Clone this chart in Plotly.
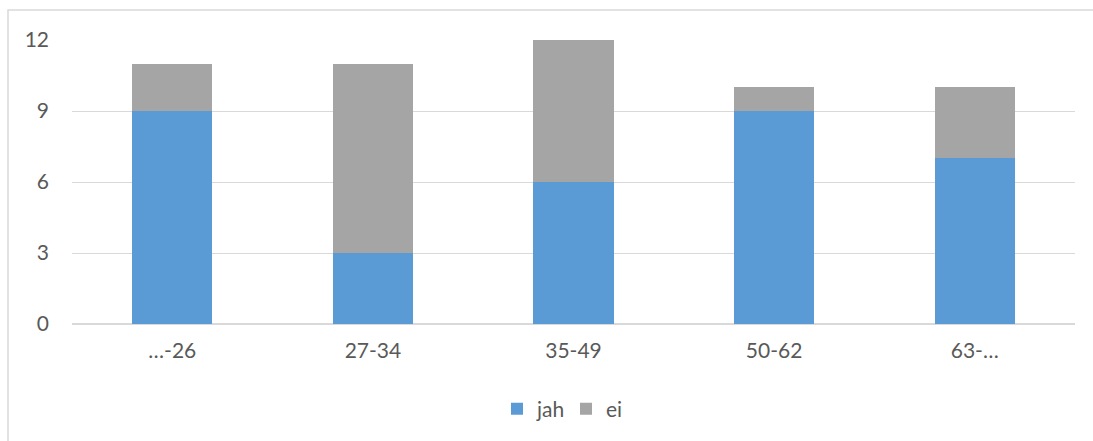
import plotly.graph_objects as go

categories = ["…-26", "27-34", "35-49", "50-62", "63-…"]
jah = [9, 3, 6, 9, 7]
ei = [2, 8, 6, 1, 3]
y_ticks = [0, 3, 6, 9, 12]

W, H = 1093, 441
L, R, T, B = 72, 18, 40, 117
pw, ph = W - L - R, H - T - B

text_color = "#595959"
font = dict(family="Lato, Open Sans, sans-serif", size=21, color=text_color)

fig = go.Figure()
fig.add_trace(go.Bar(name="jah", x=categories, y=jah, marker=dict(color="#5B9BD5", line=dict(width=0))))
fig.add_trace(go.Bar(name="ei", x=categories, y=ei, marker=dict(color="#A5A5A5", line=dict(width=0))))

# outer chart border (left and top visible; right/bottom fall outside the page)
fig.add_shape(
    type="rect", xref="paper", yref="paper",
    x0=(8 - L) / pw, x1=(W + 20 - L) / pw,
    y0=-(H + 20 - T - ph) / ph, y1=1 + (T - 10) / ph,
    line=dict(color="#D9D9D9", width=1.5), fillcolor="rgba(0,0,0,0)", layer="below",
)

fig.update_layout(
    width=W, height=H,
    margin=dict(l=L, r=R, t=T, b=B),
    barmode="stack", bargap=0.6,
    plot_bgcolor="white", paper_bgcolor="white",
    font=font,
    showlegend=True,
    legend=dict(
        orientation="h", x=(497 - L) / pw, xanchor="left",
        y=(324 - 409) / ph, yanchor="middle",
        font=font, itemwidth=30, traceorder="normal",
        entrywidth=24, entrywidthmode="pixels",
    ),
    xaxis=dict(
        showgrid=False, showline=False, ticks="", tickfont=font,
        ticklabelstandoff=12,
    ),
    yaxis=dict(
        range=[0, 12], tickvals=y_ticks, showgrid=True, gridcolor="#D9D9D9",
        gridwidth=1, zeroline=True, zerolinecolor="#D9D9D9", zerolinewidth=1.5,
        showline=False, ticks="", tickfont=font, ticklabelstandoff=22,
    ),
)

fig.write_html("out.html")
